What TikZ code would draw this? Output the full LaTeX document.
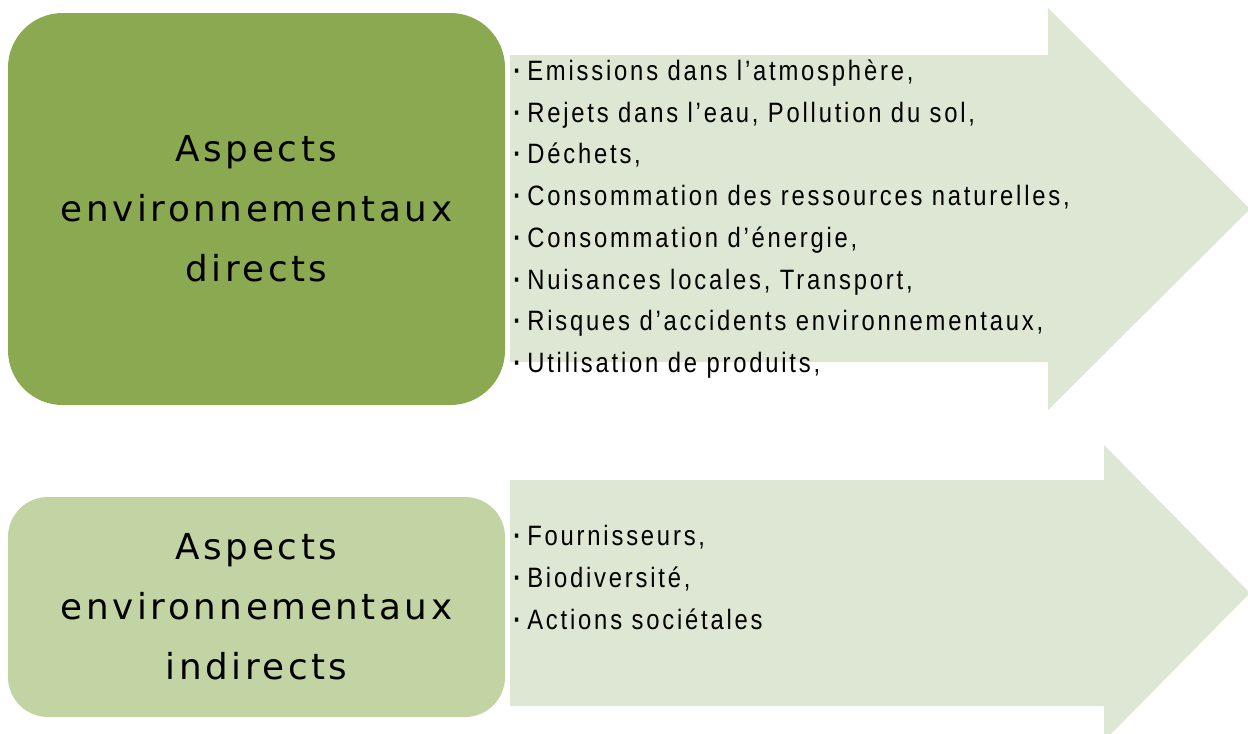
\documentclass[tikz,border=0pt]{standalone}
\usepackage{fontspec}
\newfontfamily\titlefont[LetterSpace=10]{DejaVu Sans}
\newfontfamily\listfont[FakeStretch=0.85,LetterSpace=10]{Liberation Sans}
\definecolor{darkg}{HTML}{8BA950}
\definecolor{lightg}{HTML}{C2D3A4}
\definecolor{arrowg}{HTML}{DEE7D3}
\newcommand{\blt}{\textbf{·}\kern2.5pt}
\begin{document}
\begin{tikzpicture}[x=0.75pt,y=-0.75pt,
  titlebox/.style={inner sep=0pt, minimum width=372.75pt, align=center,
    font=\titlefont\fontsize{26.8pt}{45pt}\selectfont, text=black},
  bigarrow/.style={fill=arrowg, draw=none},
  item/.style={anchor=base west, inner sep=0pt, font=\listfont\fontsize{21pt}{25pt}\selectfont, text=black}]
\useasboundingbox (0,0) rectangle (1248,733);
\clip (0,0) rectangle (1248,733);
\fill[white] (0,0) rectangle (1248,733);
% arrows
\path[bigarrow] (510,55) -- (1048,55) -- (1048,8) -- (1250,209) -- (1048,410) -- (1048,362) -- (510,362) -- cycle;
\path[bigarrow] (510,480) -- (1104,480) -- (1104,445) -- (1250,593) -- (1104,741) -- (1104,706) -- (510,706) -- cycle;
% boxes
\node[titlebox, fill=darkg, rounded corners=41pt, minimum height=294pt] (direct) at (256.5,209)
  {Aspects\\environnementaux\\directs};
\node[titlebox, fill=lightg, rounded corners=30pt, minimum height=165pt] (indirect) at (256.5,607)
  {Aspects\\environnementaux\\indirects};
% lists
\foreach \t [count=\i from 0] in {{Emissions dans l’atmosphère,},
  {Rejets dans l’eau, Pollution du sol,},
  {Déchets,},
  {Consommation des ressources naturelles,},
  {Consommation d’énergie,},
  {Nuisances locales, Transport,},
  {Risques d’accidents environnementaux,},
  {Utilisation de produits,}}
  \node[item] (d\i) at (513,80.5+41.7*\i) {\blt\t};
\node[item] (i0) at (513,545.5) {\blt Fournisseurs,};
\node[item] (i1) at (513,587.5) {\blt Biodiversité,};
\node[item] (i2) at (513,629.5) {\blt Actions sociétales};
\end{tikzpicture}
\end{document}
